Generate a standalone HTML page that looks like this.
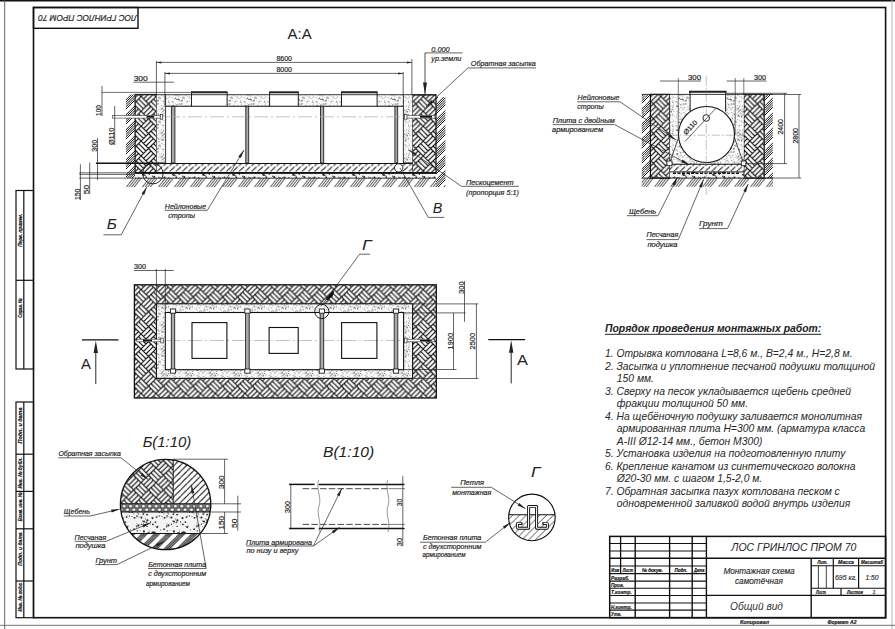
<!DOCTYPE html>
<html><head><meta charset="utf-8"><style>
html,body{margin:0;padding:0;background:#fff;width:895px;height:629px;overflow:hidden}
svg{display:block;font-family:"Liberation Sans",sans-serif}
</style></head><body>
<svg width="895" height="629" viewBox="0 0 895 629">
<defs>
<pattern id="hb" patternUnits="userSpaceOnUse" width="14.8492" height="14.8492" x="7.42" y="7.42"><rect width="14.8492" height="14.8492" fill="#fff"/><path d="M-2.47,2.47L4.95,9.90M-4.95,4.95L2.47,12.37M-7.42,-7.42L0.00,0.00M-7.42,7.42L0.00,14.85M0.00,0.00L-7.42,7.42M0.00,0.00L7.42,7.42M0.00,14.85L-7.42,22.27M0.00,14.85L7.42,22.27M12.37,-2.47L4.95,4.95M12.37,12.37L4.95,19.80M12.37,2.47L19.80,9.90M14.85,-0.00L22.27,7.42M14.85,-0.00L7.42,7.42M14.85,14.85L22.27,22.27M14.85,14.85L7.42,22.27M22.27,-7.42L14.85,-0.00M22.27,7.42L14.85,14.85M7.42,-7.42L0.00,0.00M7.42,-7.42L14.85,-0.00M7.42,7.42L0.00,14.85M7.42,7.42L14.85,14.85M9.90,-4.95L2.47,2.47M9.90,4.95L17.32,12.37M9.90,9.90L2.47,17.32" fill="none" stroke="#111" stroke-width="1.1"/></pattern>
<pattern id="gr" patternUnits="userSpaceOnUse" width="16" height="20.479"><rect width="16" height="20.479" fill="#fff"/><path d="M-15.40,20.48L0.60,0M0.60,20.48L16.60,0M16.60,20.48L32.60,0M-12.80,20.48L3.20,0M3.20,20.48L19.20,0M19.20,20.48L35.20,0M-10.20,20.48L5.80,0M5.80,20.48L21.80,0M21.80,20.48L37.80,0M-7.60,20.48L8.40,0M8.40,20.48L24.40,0M24.40,20.48L40.40,0" stroke="#111" stroke-width="0.85" fill="none"/></pattern>
<pattern id="grv" patternUnits="userSpaceOnUse" width="15.000" height="15"><rect width="15.000" height="15" fill="#fff"/><path d="M0,0.80L15.00,-14.20M0,15.80L15.00,0.80M0,30.80L15.00,15.80M0,3.10L15.00,-11.90M0,18.10L15.00,3.10M0,33.10L15.00,18.10M0,5.40L15.00,-9.60M0,20.40L15.00,5.40M0,35.40L15.00,20.40M0,7.70L15.00,-7.30M0,22.70L15.00,7.70M0,37.70L15.00,22.70M0,10.00L15.00,-5.00M0,25.00L15.00,10.00M0,40.00L15.00,25.00" stroke="#111" stroke-width="1.0" fill="none"/></pattern>
<pattern id="cc" patternUnits="userSpaceOnUse" width="6.3" height="5.673"><rect width="6.3" height="5.673" fill="#fff"/><path d="M-5.30,5.673L1.00,0M1.00,5.673L7.30,0M7.30,5.673L13.60,0" stroke="#1a1a1a" stroke-width="1.0" stroke-dasharray="5 1.6" fill="none"/></pattern>
<pattern id="sd" patternUnits="userSpaceOnUse" width="24" height="24"><rect width="24" height="24" fill="#fafafa"/><line x1="10.7" y1="12.5" x2="11.0" y2="14.3" stroke="#888" stroke-width="0.5"/><circle cx="4.6" cy="19.3" r="0.3" fill="#666"/><circle cx="10.7" cy="3.4" r="0.6" fill="#444"/><line x1="23.5" y1="14.9" x2="22.8" y2="16.5" stroke="#666" stroke-width="0.5"/><line x1="2.0" y1="0.5" x2="1.1" y2="1.2" stroke="#444" stroke-width="0.5"/><circle cx="14.2" cy="4.7" r="0.6" fill="#777"/><line x1="1.1" y1="2.0" x2="-0.9" y2="2.0" stroke="#888" stroke-width="0.5"/><circle cx="20.2" cy="17.0" r="0.5" fill="#666"/><circle cx="0.7" cy="13.5" r="0.5" fill="#444"/><line x1="8.5" y1="22.4" x2="10.0" y2="23.6" stroke="#444" stroke-width="0.5"/><line x1="0.5" y1="8.8" x2="2.0" y2="9.2" stroke="#888" stroke-width="0.5"/><circle cx="18.7" cy="6.5" r="0.3" fill="#777"/><circle cx="23.1" cy="18.2" r="0.3" fill="#666"/><circle cx="0.3" cy="11.2" r="0.6" fill="#666"/><line x1="12.4" y1="23.2" x2="12.0" y2="24.1" stroke="#888" stroke-width="0.5"/><circle cx="10.1" cy="5.1" r="0.3" fill="#777"/><line x1="4.6" y1="9.4" x2="5.5" y2="9.5" stroke="#444" stroke-width="0.5"/><line x1="10.4" y1="-0.2" x2="10.8" y2="0.6" stroke="#777" stroke-width="0.5"/><circle cx="5.0" cy="15.3" r="0.5" fill="#777"/><line x1="15.4" y1="2.8" x2="14.5" y2="3.3" stroke="#666" stroke-width="0.5"/><line x1="4.0" y1="21.4" x2="3.4" y2="22.2" stroke="#666" stroke-width="0.5"/><line x1="15.8" y1="13.0" x2="14.4" y2="13.6" stroke="#888" stroke-width="0.5"/><circle cx="10.1" cy="2.5" r="0.4" fill="#777"/><circle cx="17.8" cy="9.4" r="0.5" fill="#888"/><line x1="11.9" y1="21.8" x2="13.0" y2="22.8" stroke="#666" stroke-width="0.5"/><circle cx="20.5" cy="14.7" r="0.3" fill="#666"/><circle cx="1.7" cy="9.9" r="0.4" fill="#444"/><line x1="6.4" y1="11.9" x2="7.2" y2="13.6" stroke="#444" stroke-width="0.5"/><line x1="23.8" y1="14.8" x2="23.3" y2="16.7" stroke="#666" stroke-width="0.5"/><circle cx="11.4" cy="8.6" r="0.3" fill="#444"/><circle cx="14.4" cy="1.8" r="0.5" fill="#777"/><circle cx="3.3" cy="1.7" r="0.3" fill="#777"/><line x1="21.2" y1="17.0" x2="22.0" y2="18.4" stroke="#777" stroke-width="0.5"/><circle cx="21.6" cy="20.9" r="0.6" fill="#444"/><circle cx="13.7" cy="15.0" r="0.3" fill="#444"/><line x1="2.3" y1="14.9" x2="1.5" y2="15.8" stroke="#888" stroke-width="0.5"/><circle cx="17.6" cy="13.9" r="0.3" fill="#444"/><circle cx="7.4" cy="2.1" r="0.6" fill="#444"/><circle cx="18.7" cy="15.8" r="0.5" fill="#444"/><circle cx="7.2" cy="16.3" r="0.5" fill="#666"/><line x1="15.7" y1="10.1" x2="16.0" y2="11.1" stroke="#777" stroke-width="0.5"/><line x1="15.8" y1="19.1" x2="14.6" y2="19.5" stroke="#666" stroke-width="0.5"/><circle cx="14.0" cy="7.6" r="0.5" fill="#888"/><line x1="20.5" y1="20.1" x2="19.7" y2="20.6" stroke="#777" stroke-width="0.5"/><line x1="11.6" y1="21.6" x2="11.0" y2="22.9" stroke="#888" stroke-width="0.5"/><line x1="7.1" y1="19.4" x2="8.0" y2="20.9" stroke="#888" stroke-width="0.5"/><line x1="6.8" y1="14.0" x2="6.5" y2="15.2" stroke="#777" stroke-width="0.5"/><circle cx="19.0" cy="0.5" r="0.4" fill="#888"/><circle cx="0.6" cy="19.9" r="0.3" fill="#666"/><circle cx="23.6" cy="2.8" r="0.3" fill="#777"/><circle cx="16.4" cy="4.8" r="0.3" fill="#666"/><circle cx="18.1" cy="12.8" r="0.5" fill="#666"/><line x1="18.4" y1="12.1" x2="19.0" y2="13.8" stroke="#666" stroke-width="0.5"/><line x1="21.1" y1="1.8" x2="22.4" y2="2.4" stroke="#888" stroke-width="0.5"/><circle cx="15.0" cy="21.8" r="0.6" fill="#777"/><circle cx="7.8" cy="23.6" r="0.4" fill="#444"/><circle cx="5.8" cy="9.4" r="0.5" fill="#777"/><circle cx="6.3" cy="17.2" r="0.3" fill="#444"/><line x1="11.1" y1="13.1" x2="10.1" y2="13.3" stroke="#888" stroke-width="0.5"/><circle cx="20.8" cy="10.3" r="0.4" fill="#777"/><line x1="12.0" y1="23.9" x2="10.6" y2="24.1" stroke="#888" stroke-width="0.5"/><circle cx="22.8" cy="2.1" r="0.4" fill="#777"/><line x1="13.0" y1="19.4" x2="12.0" y2="21.1" stroke="#777" stroke-width="0.5"/><circle cx="20.9" cy="14.6" r="0.5" fill="#666"/><circle cx="13.8" cy="4.8" r="0.6" fill="#444"/><circle cx="0.7" cy="23.3" r="0.3" fill="#888"/><circle cx="11.8" cy="16.6" r="0.6" fill="#888"/><circle cx="22.1" cy="19.2" r="0.6" fill="#666"/><line x1="11.9" y1="7.7" x2="11.8" y2="8.6" stroke="#888" stroke-width="0.5"/><circle cx="10.1" cy="0.7" r="0.3" fill="#444"/><line x1="5.0" y1="5.0" x2="4.3" y2="5.9" stroke="#777" stroke-width="0.5"/><line x1="12.5" y1="11.4" x2="11.5" y2="12.6" stroke="#777" stroke-width="0.5"/><line x1="21.2" y1="-0.4" x2="21.0" y2="1.5" stroke="#666" stroke-width="0.5"/><circle cx="12.8" cy="5.2" r="0.4" fill="#666"/><circle cx="22.0" cy="15.1" r="0.5" fill="#666"/><circle cx="14.5" cy="21.4" r="0.3" fill="#666"/><line x1="3.0" y1="5.1" x2="3.4" y2="6.4" stroke="#777" stroke-width="0.5"/><line x1="22.3" y1="12.3" x2="22.8" y2="13.8" stroke="#666" stroke-width="0.5"/><line x1="-0.2" y1="4.6" x2="1.1" y2="5.1" stroke="#777" stroke-width="0.5"/><line x1="18.8" y1="11.7" x2="17.6" y2="12.5" stroke="#666" stroke-width="0.5"/><line x1="0.1" y1="18.1" x2="1.0" y2="18.5" stroke="#888" stroke-width="0.5"/><line x1="5.0" y1="19.7" x2="4.8" y2="20.6" stroke="#444" stroke-width="0.5"/><circle cx="16.3" cy="1.9" r="0.6" fill="#888"/><circle cx="10.2" cy="8.5" r="0.3" fill="#777"/><circle cx="15.2" cy="1.0" r="0.6" fill="#888"/><line x1="7.8" y1="8.6" x2="9.5" y2="9.1" stroke="#666" stroke-width="0.5"/><line x1="7.9" y1="1.5" x2="7.7" y2="2.5" stroke="#888" stroke-width="0.5"/><line x1="14.8" y1="7.9" x2="13.2" y2="8.4" stroke="#777" stroke-width="0.5"/><circle cx="18.7" cy="19.6" r="0.5" fill="#777"/><circle cx="18.4" cy="18.4" r="0.3" fill="#666"/><circle cx="19.1" cy="7.2" r="0.3" fill="#777"/><line x1="5.1" y1="22.3" x2="6.1" y2="23.1" stroke="#777" stroke-width="0.5"/><circle cx="4.4" cy="1.8" r="0.4" fill="#888"/><line x1="16.4" y1="18.1" x2="17.3" y2="18.4" stroke="#444" stroke-width="0.5"/><circle cx="5.7" cy="10.6" r="0.6" fill="#666"/><circle cx="0.3" cy="6.2" r="0.6" fill="#777"/><line x1="23.6" y1="13.4" x2="22.8" y2="13.9" stroke="#888" stroke-width="0.5"/><circle cx="14.3" cy="18.2" r="0.6" fill="#666"/><circle cx="11.3" cy="4.1" r="0.6" fill="#444"/><circle cx="22.7" cy="10.1" r="0.5" fill="#777"/><circle cx="12.7" cy="11.6" r="0.5" fill="#777"/><line x1="0.4" y1="17.8" x2="0.9" y2="19.3" stroke="#666" stroke-width="0.5"/><circle cx="1.3" cy="7.6" r="0.3" fill="#777"/><line x1="19.7" y1="5.3" x2="18.6" y2="5.4" stroke="#777" stroke-width="0.5"/><line x1="11.7" y1="22.1" x2="13.4" y2="22.9" stroke="#888" stroke-width="0.5"/><circle cx="5.9" cy="17.0" r="0.6" fill="#888"/><circle cx="2.8" cy="20.7" r="0.3" fill="#666"/><circle cx="8.7" cy="3.4" r="0.6" fill="#777"/><line x1="9.6" y1="17.7" x2="7.9" y2="18.0" stroke="#666" stroke-width="0.5"/><line x1="5.2" y1="2.2" x2="6.2" y2="3.3" stroke="#777" stroke-width="0.5"/><circle cx="17.4" cy="16.8" r="0.4" fill="#777"/><line x1="4.9" y1="5.8" x2="4.2" y2="6.1" stroke="#666" stroke-width="0.5"/><circle cx="1.5" cy="6.5" r="0.3" fill="#444"/><line x1="5.5" y1="5.9" x2="5.2" y2="7.4" stroke="#666" stroke-width="0.5"/><circle cx="9.0" cy="11.5" r="0.6" fill="#777"/><circle cx="17.9" cy="20.1" r="0.6" fill="#444"/><line x1="19.3" y1="14.1" x2="19.6" y2="15.8" stroke="#666" stroke-width="0.5"/><circle cx="9.4" cy="3.6" r="0.5" fill="#777"/><line x1="13.5" y1="17.2" x2="12.8" y2="18.6" stroke="#888" stroke-width="0.5"/><circle cx="11.1" cy="7.8" r="0.6" fill="#888"/><line x1="19.1" y1="11.0" x2="20.1" y2="11.2" stroke="#444" stroke-width="0.5"/><circle cx="15.9" cy="2.0" r="0.5" fill="#777"/><line x1="21.0" y1="4.8" x2="21.4" y2="5.7" stroke="#777" stroke-width="0.5"/><line x1="16.9" y1="12.8" x2="17.2" y2="14.5" stroke="#777" stroke-width="0.5"/><circle cx="7.3" cy="7.6" r="0.3" fill="#666"/><circle cx="8.7" cy="8.8" r="0.6" fill="#888"/><circle cx="19.1" cy="17.7" r="0.4" fill="#888"/><circle cx="20.1" cy="13.5" r="0.5" fill="#888"/><circle cx="19.5" cy="5.3" r="0.5" fill="#666"/><line x1="23.3" y1="15.1" x2="23.0" y2="16.2" stroke="#444" stroke-width="0.5"/><circle cx="13.1" cy="8.0" r="0.5" fill="#444"/><circle cx="2.0" cy="15.2" r="0.4" fill="#888"/><line x1="17.6" y1="11.3" x2="16.6" y2="12.2" stroke="#777" stroke-width="0.5"/><line x1="8.1" y1="22.4" x2="8.1" y2="24.1" stroke="#888" stroke-width="0.5"/><circle cx="1.7" cy="14.8" r="0.3" fill="#777"/><line x1="19.4" y1="19.2" x2="19.3" y2="20.8" stroke="#444" stroke-width="0.5"/><circle cx="19.3" cy="10.1" r="0.4" fill="#666"/><circle cx="17.8" cy="23.8" r="0.5" fill="#666"/><circle cx="4.9" cy="10.2" r="0.6" fill="#444"/><line x1="8.2" y1="2.5" x2="6.6" y2="3.0" stroke="#666" stroke-width="0.5"/></pattern>
<pattern id="sd2" patternUnits="userSpaceOnUse" width="30" height="30"><rect width="30" height="30" fill="#f4f4f4"/><circle cx="0.5" cy="14.4" r="0.4" fill="#333"/><circle cx="9.4" cy="5.9" r="0.7" fill="#333"/><circle cx="6.5" cy="7.1" r="0.9" fill="#333"/><circle cx="17.8" cy="6.7" r="0.5" fill="#333"/><circle cx="26.8" cy="12.1" r="0.7" fill="#333"/><circle cx="18.8" cy="28.3" r="1.1" fill="#333"/><circle cx="14.4" cy="7.8" r="0.9" fill="#333"/><circle cx="27.4" cy="10.3" r="1.1" fill="#333"/><circle cx="23.2" cy="2.8" r="0.5" fill="#333"/><circle cx="12.0" cy="6.5" r="0.5" fill="#333"/><circle cx="24.0" cy="11.5" r="1.1" fill="#333"/><circle cx="23.8" cy="23.2" r="0.4" fill="#333"/><circle cx="19.7" cy="7.1" r="0.4" fill="#333"/><circle cx="26.2" cy="27.2" r="0.9" fill="#333"/><circle cx="23.9" cy="21.4" r="1.1" fill="#333"/><circle cx="26.2" cy="12.5" r="0.7" fill="#333"/><circle cx="4.3" cy="27.2" r="1.1" fill="#333"/><circle cx="3.9" cy="22.3" r="1.1" fill="#333"/><circle cx="8.0" cy="16.0" r="0.5" fill="#333"/><circle cx="17.2" cy="5.3" r="0.5" fill="#333"/><circle cx="24.6" cy="25.4" r="0.5" fill="#333"/><circle cx="2.5" cy="8.1" r="1.1" fill="#333"/><circle cx="2.9" cy="14.4" r="0.9" fill="#333"/><circle cx="2.5" cy="22.5" r="1.1" fill="#333"/><circle cx="25.7" cy="9.1" r="0.5" fill="#333"/><circle cx="12.5" cy="27.5" r="0.4" fill="#333"/><circle cx="23.4" cy="13.2" r="0.4" fill="#333"/><circle cx="16.3" cy="15.8" r="0.5" fill="#333"/><circle cx="28.4" cy="28.9" r="0.7" fill="#333"/><circle cx="9.3" cy="2.3" r="0.7" fill="#333"/><circle cx="29.9" cy="20.0" r="0.4" fill="#333"/><circle cx="10.8" cy="20.6" r="0.4" fill="#333"/><circle cx="20.0" cy="20.3" r="0.4" fill="#333"/><circle cx="19.6" cy="0.4" r="0.9" fill="#333"/><circle cx="21.4" cy="14.3" r="0.7" fill="#333"/><circle cx="16.9" cy="13.7" r="0.4" fill="#333"/><circle cx="25.7" cy="25.3" r="0.5" fill="#333"/><circle cx="27.0" cy="4.6" r="0.9" fill="#333"/><circle cx="28.1" cy="22.5" r="0.7" fill="#333"/><circle cx="22.6" cy="16.7" r="0.4" fill="#333"/><circle cx="7.7" cy="6.0" r="0.4" fill="#333"/><circle cx="9.9" cy="28.4" r="1.1" fill="#333"/><circle cx="14.1" cy="19.2" r="0.9" fill="#333"/><circle cx="24.8" cy="2.8" r="0.5" fill="#333"/><circle cx="18.7" cy="3.9" r="0.5" fill="#333"/><circle cx="5.4" cy="12.1" r="0.9" fill="#333"/><circle cx="17.8" cy="2.7" r="0.5" fill="#333"/><circle cx="1.0" cy="29.6" r="0.9" fill="#333"/><circle cx="12.2" cy="2.2" r="0.9" fill="#333"/><circle cx="27.8" cy="4.2" r="0.5" fill="#333"/><circle cx="23.0" cy="24.6" r="0.9" fill="#333"/><circle cx="14.5" cy="27.6" r="1.1" fill="#333"/><circle cx="0.5" cy="12.0" r="0.7" fill="#333"/><circle cx="29.5" cy="23.7" r="1.1" fill="#333"/><circle cx="15.9" cy="7.8" r="0.5" fill="#333"/><circle cx="10.3" cy="19.5" r="0.4" fill="#333"/><circle cx="16.7" cy="6.1" r="0.7" fill="#333"/><circle cx="23.7" cy="24.8" r="1.1" fill="#333"/><circle cx="21.4" cy="7.6" r="1.1" fill="#333"/><circle cx="27.1" cy="16.4" r="0.7" fill="#333"/><circle cx="18.4" cy="15.4" r="1.1" fill="#333"/><circle cx="21.4" cy="29.6" r="1.1" fill="#333"/><circle cx="30.0" cy="21.2" r="0.5" fill="#333"/><circle cx="17.0" cy="0.8" r="0.5" fill="#333"/><circle cx="23.3" cy="4.1" r="0.9" fill="#333"/><circle cx="17.3" cy="20.9" r="0.7" fill="#333"/><circle cx="2.8" cy="26.2" r="0.7" fill="#333"/><circle cx="13.9" cy="3.7" r="0.5" fill="#333"/><circle cx="7.2" cy="17.1" r="1.1" fill="#333"/><circle cx="16.8" cy="16.8" r="0.7" fill="#333"/><circle cx="5.1" cy="22.4" r="0.7" fill="#333"/><circle cx="18.0" cy="3.7" r="0.4" fill="#333"/><circle cx="8.7" cy="26.9" r="0.5" fill="#333"/><circle cx="22.7" cy="10.9" r="0.5" fill="#333"/><circle cx="5.6" cy="16.4" r="0.4" fill="#333"/></pattern>
<pattern id="gv" patternUnits="userSpaceOnUse" width="6" height="8"><rect width="6" height="8" fill="#fff"/><ellipse cx="3" cy="4" rx="2.2" ry="1.8" fill="none" stroke="#222" stroke-width="0.9"/></pattern>
<pattern id="hbL" patternUnits="userSpaceOnUse" width="29.6985" height="14.8492" patternTransform="scale(1.0)"><rect width="100" height="100" fill="#fff"/><rect width="100" height="100" fill="url(#hb)"/></pattern>
<pattern id="ccG" patternUnits="userSpaceOnUse" width="6.8" height="6.800" x="0" y="0"><rect width="6.8" height="6.800" fill="#fff"/><path d="M-12.60,6.800L-5.80,0M-5.80,6.800L1.00,0M1.00,6.800L7.80,0M7.80,6.800L14.60,0M14.60,6.800L21.40,0" stroke="#222" stroke-width="0.8" fill="none"/></pattern>
<pattern id="ccL" patternUnits="userSpaceOnUse" width="6.2" height="6.200" x="0" y="0"><rect width="6.2" height="6.200" fill="#fff"/><path d="M-11.40,6.200L-5.20,0M-5.20,6.200L1.00,0M1.00,6.200L7.20,0M7.20,6.200L13.40,0M13.40,6.200L19.60,0" stroke="#111" stroke-width="0.95" fill="none"/></pattern>
<pattern id="grL" patternUnits="userSpaceOnUse" width="12.5" height="12.500" x="0" y="0"><rect width="12.5" height="12.500" fill="#fff"/><path d="M-24.00,12.500L-11.50,0M-11.50,12.500L1.00,0M1.00,12.500L13.50,0M13.50,12.500L26.00,0M26.00,12.500L38.50,0M-21.60,12.500L-9.10,0M-9.10,12.500L3.40,0M3.40,12.500L15.90,0M15.90,12.500L28.40,0M28.40,12.500L40.90,0M-19.20,12.500L-6.70,0M-6.70,12.500L5.80,0M5.80,12.500L18.30,0M18.30,12.500L30.80,0M30.80,12.500L43.30,0" stroke="#111" stroke-width="1.05" fill="none"/></pattern>
<pattern id="gvL" patternUnits="userSpaceOnUse" width="6.4" height="8.2" x="1" y="503.8"><rect width="6.4" height="8.2" fill="#808080"/><ellipse cx="1.6" cy="2.3" rx="2.2" ry="1.75" fill="#fff" stroke="#111" stroke-width="0.75"/><ellipse cx="4.8" cy="6.0" rx="2.2" ry="1.75" fill="#fff" stroke="#111" stroke-width="0.75"/><ellipse cx="-1.6" cy="6.0" rx="2.2" ry="1.75" fill="#fff" stroke="#111" stroke-width="0.75"/><ellipse cx="8.0" cy="2.3" rx="2.2" ry="1.75" fill="#fff" stroke="#111" stroke-width="0.75"/></pattern>
</defs>
<rect x="0.0" y="0.0" width="895.0" height="629.0" fill="#fff" />
<line x1="0.0" y1="0.6" x2="895.0" y2="0.6" stroke="#111" stroke-width="1.6" />
<line x1="4.7" y1="0.0" x2="4.7" y2="629.0" stroke="#555" stroke-width="0.9" />
<line x1="892.0" y1="0.0" x2="892.0" y2="629.0" stroke="#aaa" stroke-width="0.9" />
<line x1="0.0" y1="625.3" x2="895.0" y2="625.3" stroke="#666" stroke-width="0.9" />
<rect x="33.5" y="7.5" width="852.1" height="610.2" fill="none" stroke="#111" stroke-width="1.6" />
<rect x="33.5" y="7.5" width="104.5" height="20.8" fill="none" stroke="#111" stroke-width="1.4" />
<text x="87.5" y="14.5" font-size="8.6" text-anchor="middle" font-style="italic" font-weight="normal" fill="#222" stroke="#222" stroke-width="0.18" textLength="98.5" lengthAdjust="spacingAndGlyphs" transform="rotate(180 87.5 14.5)" >ЛОС ГРИНЛОС ПРОМ 70</text>
<rect x="16.0" y="190.5" width="17.5" height="178.5" fill="none" stroke="#111" stroke-width="1.2" />
<line x1="23.8" y1="190.5" x2="23.8" y2="369.0" stroke="#111" stroke-width="1.2" />
<line x1="16.0" y1="280.3" x2="33.5" y2="280.3" stroke="#111" stroke-width="1.2" />
<rect x="16.0" y="402.0" width="17.5" height="215.7" fill="none" stroke="#111" stroke-width="1.2" />
<line x1="23.8" y1="402.0" x2="23.8" y2="617.7" stroke="#111" stroke-width="1.2" />
<line x1="16.0" y1="454.2" x2="33.5" y2="454.2" stroke="#111" stroke-width="1.2" />
<line x1="16.0" y1="491.4" x2="33.5" y2="491.4" stroke="#111" stroke-width="1.2" />
<line x1="16.0" y1="528.8" x2="33.5" y2="528.8" stroke="#111" stroke-width="1.2" />
<line x1="16.0" y1="581.0" x2="33.5" y2="581.0" stroke="#111" stroke-width="1.2" />
<text x="22.4" y="230.3" font-size="5.6" text-anchor="middle" font-style="italic" font-weight="bold" fill="#111" stroke="#111" stroke-width="0.2" textLength="33.0" lengthAdjust="spacingAndGlyphs" transform="rotate(-90 22.4 230.3)" >Перв. примен.</text>
<text x="22.4" y="308.0" font-size="5.6" text-anchor="middle" font-style="italic" font-weight="bold" fill="#111" stroke="#111" stroke-width="0.2" textLength="19.6" lengthAdjust="spacingAndGlyphs" transform="rotate(-90 22.4 308.0)" >Справ. №</text>
<text x="22.4" y="425.5" font-size="5.6" text-anchor="middle" font-style="italic" font-weight="bold" fill="#111" stroke="#111" stroke-width="0.2" textLength="36.0" lengthAdjust="spacingAndGlyphs" transform="rotate(-90 22.4 425.5)" >Подп. и дата</text>
<text x="22.4" y="473.0" font-size="5.6" text-anchor="middle" font-style="italic" font-weight="bold" fill="#111" stroke="#111" stroke-width="0.2" textLength="31.0" lengthAdjust="spacingAndGlyphs" transform="rotate(-90 22.4 473.0)" >Инв. № дубл.</text>
<text x="22.4" y="506.7" font-size="5.6" text-anchor="middle" font-style="italic" font-weight="bold" fill="#111" stroke="#111" stroke-width="0.2" textLength="29.0" lengthAdjust="spacingAndGlyphs" transform="rotate(-90 22.4 506.7)" >Взам. инв. №</text>
<text x="22.4" y="549.0" font-size="5.6" text-anchor="middle" font-style="italic" font-weight="bold" fill="#111" stroke="#111" stroke-width="0.2" textLength="33.4" lengthAdjust="spacingAndGlyphs" transform="rotate(-90 22.4 549.0)" >Подп. и дата</text>
<text x="22.4" y="596.9" font-size="5.6" text-anchor="middle" font-style="italic" font-weight="bold" fill="#111" stroke="#111" stroke-width="0.2" textLength="29.0" lengthAdjust="spacingAndGlyphs" transform="rotate(-90 22.4 596.9)" >Инв. № подл.</text>
<rect x="609.7" y="536.4" width="275.9" height="81.3" fill="none" stroke="#111" stroke-width="1.5" />
<line x1="620.6" y1="536.4" x2="620.6" y2="573.6" stroke="#111" stroke-width="1.3" />
<line x1="635.2" y1="536.4" x2="635.2" y2="617.7" stroke="#111" stroke-width="1.4" />
<line x1="669.6" y1="536.4" x2="669.6" y2="617.7" stroke="#111" stroke-width="1.4" />
<line x1="692.2" y1="536.4" x2="692.2" y2="617.7" stroke="#111" stroke-width="1.4" />
<line x1="706.4" y1="536.4" x2="706.4" y2="617.7" stroke="#111" stroke-width="1.4" />
<line x1="609.7" y1="543.4" x2="706.4" y2="543.4" stroke="#111" stroke-width="1.05" />
<line x1="609.7" y1="551.0" x2="706.4" y2="551.0" stroke="#111" stroke-width="1.05" />
<line x1="609.7" y1="558.2" x2="706.4" y2="558.2" stroke="#111" stroke-width="1.4" />
<line x1="609.7" y1="566.0" x2="706.4" y2="566.0" stroke="#111" stroke-width="1.05" />
<line x1="609.7" y1="573.6" x2="706.4" y2="573.6" stroke="#111" stroke-width="1.4" />
<line x1="609.7" y1="581.1" x2="706.4" y2="581.1" stroke="#111" stroke-width="1.05" />
<line x1="609.7" y1="588.3" x2="706.4" y2="588.3" stroke="#111" stroke-width="1.05" />
<line x1="609.7" y1="595.4" x2="706.4" y2="595.4" stroke="#111" stroke-width="1.05" />
<line x1="609.7" y1="603.0" x2="706.4" y2="603.0" stroke="#111" stroke-width="1.05" />
<line x1="609.7" y1="610.1" x2="706.4" y2="610.1" stroke="#111" stroke-width="1.05" />
<line x1="706.4" y1="558.2" x2="885.6" y2="558.2" stroke="#111" stroke-width="1.4" />
<line x1="706.4" y1="595.4" x2="885.6" y2="595.4" stroke="#111" stroke-width="1.4" />
<line x1="811.2" y1="558.2" x2="811.2" y2="617.7" stroke="#111" stroke-width="1.4" />
<line x1="811.2" y1="565.7" x2="885.6" y2="565.7" stroke="#111" stroke-width="1.1" />
<line x1="811.2" y1="588.3" x2="885.6" y2="588.3" stroke="#111" stroke-width="1.1" />
<line x1="833.3" y1="558.2" x2="833.3" y2="588.3" stroke="#111" stroke-width="1.2" />
<line x1="858.6" y1="558.2" x2="858.6" y2="588.3" stroke="#111" stroke-width="1.2" />
<line x1="818.4" y1="565.7" x2="818.4" y2="588.3" stroke="#111" stroke-width="0.8" />
<line x1="826.3" y1="565.7" x2="826.3" y2="588.3" stroke="#111" stroke-width="0.8" />
<line x1="841.0" y1="588.3" x2="841.0" y2="595.4" stroke="#111" stroke-width="1.2" />
<text x="615.2" y="571.9" font-size="5.4" text-anchor="middle" font-style="italic" font-weight="bold" fill="#111" stroke="#111" stroke-width="0.2" textLength="7.8" lengthAdjust="spacingAndGlyphs" >Изм</text>
<text x="627.9" y="571.9" font-size="5.4" text-anchor="middle" font-style="italic" font-weight="bold" fill="#111" stroke="#111" stroke-width="0.2" textLength="10.4" lengthAdjust="spacingAndGlyphs" >Лист</text>
<text x="652.4" y="571.9" font-size="5.4" text-anchor="middle" font-style="italic" font-weight="bold" fill="#111" stroke="#111" stroke-width="0.2" textLength="20.8" lengthAdjust="spacingAndGlyphs" >№ докум.</text>
<text x="680.9" y="571.9" font-size="5.4" text-anchor="middle" font-style="italic" font-weight="bold" fill="#111" stroke="#111" stroke-width="0.2" textLength="13.0" lengthAdjust="spacingAndGlyphs" >Подп.</text>
<text x="699.3" y="571.9" font-size="5.4" text-anchor="middle" font-style="italic" font-weight="bold" fill="#111" stroke="#111" stroke-width="0.2" textLength="10.4" lengthAdjust="spacingAndGlyphs" >Дата</text>
<text x="611.0" y="579.5" font-size="5.2" text-anchor="start" font-style="italic" font-weight="bold" fill="#222" stroke="#222" stroke-width="0.2" textLength="18.2" lengthAdjust="spacingAndGlyphs" >Разраб.</text>
<text x="611.0" y="587.0" font-size="5.2" text-anchor="start" font-style="italic" font-weight="bold" fill="#222" stroke="#222" stroke-width="0.2" textLength="13.0" lengthAdjust="spacingAndGlyphs" >Пров.</text>
<text x="611.0" y="594.2" font-size="5.2" text-anchor="start" font-style="italic" font-weight="bold" fill="#222" stroke="#222" stroke-width="0.2" textLength="20.8" lengthAdjust="spacingAndGlyphs" >Т.контр.</text>
<text x="611.0" y="608.5" font-size="5.2" text-anchor="start" font-style="italic" font-weight="bold" fill="#222" stroke="#222" stroke-width="0.2" textLength="20.8" lengthAdjust="spacingAndGlyphs" >Н.контр.</text>
<text x="611.0" y="615.8" font-size="5.2" text-anchor="start" font-style="italic" font-weight="bold" fill="#222" stroke="#222" stroke-width="0.2" textLength="10.4" lengthAdjust="spacingAndGlyphs" >Утв.</text>
<text x="731.3" y="551.3" font-size="10.4" text-anchor="start" font-style="italic" font-weight="normal" fill="#222" textLength="125.0" lengthAdjust="spacingAndGlyphs" >ЛОС ГРИНЛОС ПРОМ 70</text>
<text x="759.0" y="573.9" font-size="8.2" text-anchor="middle" font-style="italic" font-weight="normal" fill="#333" stroke="#333" stroke-width="0.18" textLength="71.2" lengthAdjust="spacingAndGlyphs" >Монтажная схема</text>
<text x="759.0" y="583.5" font-size="8.2" text-anchor="middle" font-style="italic" font-weight="normal" fill="#333" stroke="#333" stroke-width="0.18" textLength="48.0" lengthAdjust="spacingAndGlyphs" >самотёчная</text>
<text x="756.5" y="610.0" font-size="10.2" text-anchor="middle" font-style="italic" font-weight="normal" fill="#333" textLength="53.0" lengthAdjust="spacingAndGlyphs" >Общий вид</text>
<text x="822.5" y="563.8" font-size="5" text-anchor="middle" font-style="italic" font-weight="bold" fill="#222" stroke="#222" stroke-width="0.2" textLength="10.0" lengthAdjust="spacingAndGlyphs" >Лит.</text>
<text x="846.0" y="563.8" font-size="5" text-anchor="middle" font-style="italic" font-weight="bold" fill="#222" stroke="#222" stroke-width="0.2" textLength="16.0" lengthAdjust="spacingAndGlyphs" >Масса</text>
<text x="872.0" y="563.8" font-size="5" text-anchor="middle" font-style="italic" font-weight="bold" fill="#222" stroke="#222" stroke-width="0.2" textLength="22.0" lengthAdjust="spacingAndGlyphs" >Масштаб</text>
<text x="846.0" y="580.0" font-size="7.2" text-anchor="middle" font-style="italic" font-weight="normal" fill="#333" stroke="#333" stroke-width="0.18" textLength="22.0" lengthAdjust="spacingAndGlyphs" >695 кг.</text>
<text x="872.0" y="580.0" font-size="7.2" text-anchor="middle" font-style="italic" font-weight="normal" fill="#333" stroke="#333" stroke-width="0.18" textLength="13.0" lengthAdjust="spacingAndGlyphs" >1:50</text>
<text x="821.0" y="593.8" font-size="5" text-anchor="middle" font-style="italic" font-weight="bold" fill="#222" stroke="#222" stroke-width="0.2" textLength="10.0" lengthAdjust="spacingAndGlyphs" >Лист</text>
<text x="855.0" y="593.8" font-size="5" text-anchor="middle" font-style="italic" font-weight="bold" fill="#222" stroke="#222" stroke-width="0.2" textLength="16.0" lengthAdjust="spacingAndGlyphs" >Листов</text>
<text x="874.0" y="593.8" font-size="5.5" text-anchor="middle" font-style="italic" font-weight="normal" fill="#333" stroke="#333" stroke-width="0.18" >1</text>
<text x="754.6" y="623.5" font-size="5.5" text-anchor="middle" font-style="italic" font-weight="bold" fill="#222" stroke="#222" stroke-width="0.2" textLength="29.0" lengthAdjust="spacingAndGlyphs" >Копировал</text>
<text x="842.0" y="623.5" font-size="5.5" text-anchor="middle" font-style="italic" font-weight="bold" fill="#222" stroke="#222" stroke-width="0.2" textLength="29.0" lengthAdjust="spacingAndGlyphs" >Формат  A2</text>
<text x="605.0" y="331.8" font-size="10.4" text-anchor="start" font-style="italic" font-weight="bold" fill="#222" textLength="216.2" lengthAdjust="spacingAndGlyphs" >Порядок проведения монтажных работ:</text>
<line x1="605.0" y1="334.3" x2="821.3" y2="334.3" stroke="#222" stroke-width="1" />
<text x="605.0" y="357.2" font-size="10.35" text-anchor="start" font-style="italic" font-weight="normal" fill="#262626" >1. Отрывка котлована L=8,6 м., B=2,4 м., H=2,8 м.</text>
<text x="605.0" y="369.7" font-size="10.35" text-anchor="start" font-style="italic" font-weight="normal" fill="#262626" >2. Засыпка и уплотнение песчаной подушки толщиной</text>
<text x="616.8" y="382.2" font-size="10.35" text-anchor="start" font-style="italic" font-weight="normal" fill="#262626" >150 мм.</text>
<text x="605.0" y="394.8" font-size="10.35" text-anchor="start" font-style="italic" font-weight="normal" fill="#262626" >3. Сверху на песок укладывается щебень средней</text>
<text x="616.8" y="407.3" font-size="10.35" text-anchor="start" font-style="italic" font-weight="normal" fill="#262626" >фракции толщиной 50 мм.</text>
<text x="605.0" y="419.8" font-size="10.35" text-anchor="start" font-style="italic" font-weight="normal" fill="#262626" >4. На щебёночную подушку заливается монолитная</text>
<text x="616.8" y="432.3" font-size="10.35" text-anchor="start" font-style="italic" font-weight="normal" fill="#262626" >армированная плита H=300 мм. (арматура класса</text>
<text x="616.8" y="444.8" font-size="10.35" text-anchor="start" font-style="italic" font-weight="normal" fill="#262626" >A-III Ø12-14 мм., бетон M300)</text>
<text x="605.0" y="457.4" font-size="10.35" text-anchor="start" font-style="italic" font-weight="normal" fill="#262626" >5. Установка изделия на подготовленную плиту</text>
<text x="605.0" y="469.9" font-size="10.35" text-anchor="start" font-style="italic" font-weight="normal" fill="#262626" >6. Крепление канатом из синтетического волокна</text>
<text x="616.8" y="482.4" font-size="10.35" text-anchor="start" font-style="italic" font-weight="normal" fill="#262626" >Ø20-30 мм. с шагом 1,5-2,0 м.</text>
<text x="605.0" y="494.9" font-size="10.35" text-anchor="start" font-style="italic" font-weight="normal" fill="#262626" >7. Обратная засыпка пазух котлована песком с</text>
<text x="616.8" y="507.4" font-size="10.35" text-anchor="start" font-style="italic" font-weight="normal" fill="#262626" >одновременной заливкой водой внутрь изделия</text>
<text x="299.6" y="38.5" font-size="15" text-anchor="middle" font-style="normal" font-weight="normal" fill="#222" textLength="24.1" lengthAdjust="spacingAndGlyphs" >A:A</text>
<rect x="125.9" y="94.5" width="9.2" height="92.5" fill="url(#grv)" stroke="none" stroke-width="0"/>
<rect x="125.9" y="178.2" width="319.5" height="8.8" fill="url(#gr)" stroke="none" stroke-width="0"/>
<rect x="436.0" y="97.0" width="9.4" height="90.0" fill="url(#grv)" stroke="none" stroke-width="0"/>
<rect x="135.1" y="172.6" width="300.9" height="5.6" fill="url(#sd2)" />
<line x1="135.1" y1="172.8" x2="436.0" y2="172.8" stroke="#111" stroke-width="1.6" />
<line x1="135.1" y1="178.2" x2="436.0" y2="178.2" stroke="#222" stroke-width="0.9" />
<rect x="135.1" y="94.5" width="21.5" height="78.1" fill="url(#hb)" stroke="none" stroke-width="0"/>
<rect x="412.4" y="94.9" width="23.6" height="77.7" fill="url(#hb)" stroke="none" stroke-width="0"/>
<rect x="135.1" y="94.5" width="21.5" height="78.1" fill="none" stroke="#111" stroke-width="1.2" />
<rect x="412.4" y="94.9" width="23.6" height="77.7" fill="none" stroke="#111" stroke-width="1.2" />
<rect x="156.6" y="94.5" width="8.8" height="68.5" fill="url(#sd)" stroke="none" stroke-width="0"/>
<rect x="403.4" y="94.9" width="9.0" height="68.1" fill="url(#sd)" stroke="none" stroke-width="0"/>
<rect x="165.4" y="94.9" width="238.0" height="11.4" fill="url(#sd)" stroke="none" stroke-width="0"/>
<rect x="156.6" y="163.0" width="255.8" height="9.6" fill="url(#cc)" stroke="none" stroke-width="0"/>
<line x1="95.9" y1="163.3" x2="412.4" y2="163.3" stroke="#111" stroke-width="1.4" />
<line x1="135.1" y1="172.8" x2="436.0" y2="172.8" stroke="#111" stroke-width="1.8" />
<rect x="191.5" y="92.5" width="35.6" height="13.8" fill="#fff" />
<line x1="191.5" y1="92.3" x2="191.5" y2="106.3" stroke="#222" stroke-width="1" />
<line x1="227.1" y1="92.3" x2="227.1" y2="106.3" stroke="#222" stroke-width="1" />
<line x1="191.0" y1="92.3" x2="227.6" y2="92.3" stroke="#222" stroke-width="2" />
<rect x="269.6" y="92.5" width="28.7" height="13.8" fill="#fff" />
<line x1="269.6" y1="92.3" x2="269.6" y2="106.3" stroke="#222" stroke-width="1" />
<line x1="298.3" y1="92.3" x2="298.3" y2="106.3" stroke="#222" stroke-width="1" />
<line x1="269.1" y1="92.3" x2="298.8" y2="92.3" stroke="#222" stroke-width="2" />
<rect x="341.5" y="92.5" width="35.6" height="13.8" fill="#fff" />
<line x1="341.5" y1="92.3" x2="341.5" y2="106.3" stroke="#222" stroke-width="1" />
<line x1="377.1" y1="92.3" x2="377.1" y2="106.3" stroke="#222" stroke-width="1" />
<line x1="341.0" y1="92.3" x2="377.6" y2="92.3" stroke="#222" stroke-width="2" />
<line x1="102.0" y1="92.4" x2="191.5" y2="92.4" stroke="#333" stroke-width="0.7" />
<line x1="135.1" y1="94.7" x2="436.0" y2="94.7" stroke="#222" stroke-width="0.9" />
<rect x="165.7" y="106.3" width="237.7" height="56.7" fill="#fff" />
<line x1="165.4" y1="106.3" x2="403.4" y2="106.3" stroke="#111" stroke-width="1.1" />
<line x1="165.6" y1="94.5" x2="165.6" y2="163.0" stroke="#222" stroke-width="0.9" />
<line x1="403.4" y1="94.9" x2="403.4" y2="163.0" stroke="#222" stroke-width="0.9" />
<rect x="171.4" y="106.3" width="3.5" height="56.7" fill="#aaa" stroke="#222" stroke-width="0.9" />
<rect x="245.8" y="106.3" width="2.9" height="56.7" fill="#aaa" stroke="#222" stroke-width="0.9" />
<rect x="320.5" y="106.3" width="3.2" height="56.7" fill="#aaa" stroke="#222" stroke-width="0.9" />
<rect x="394.9" y="106.3" width="2.8" height="56.7" fill="#aaa" stroke="#222" stroke-width="0.9" />
<line x1="166.0" y1="116.8" x2="403.0" y2="116.8" stroke="#aaa" stroke-width="0.7" stroke-dasharray="14 3 2 3"/>
<rect x="112.6" y="115.5" width="48.4" height="2.6" fill="#fff" stroke="#333" stroke-width="0.6"/>
<rect x="160.3" y="114.4" width="2.4" height="4.8" fill="#fff" stroke="#333" stroke-width="0.7" />
<rect x="405.3" y="115.5" width="29.7" height="2.6" fill="#fff" stroke="#333" stroke-width="0.6"/>
<rect x="404.6" y="114.4" width="2.4" height="4.8" fill="#fff" stroke="#333" stroke-width="0.7" />
<line x1="146.5" y1="116.8" x2="154.0" y2="116.8" stroke="#111" stroke-width="1.8" />
<line x1="420.0" y1="116.8" x2="432.0" y2="116.8" stroke="#111" stroke-width="1.8" />
<circle cx="152.9" cy="173.7" r="10.2" fill="none" stroke="#111" stroke-width="0.9"/>
<circle cx="398.7" cy="167.9" r="4.2" fill="#fff" stroke="#111" stroke-width="0.9"/>
<line x1="156.4" y1="60.8" x2="156.4" y2="94.5" stroke="#222" stroke-width="0.7" />
<line x1="411.9" y1="59.0" x2="411.9" y2="94.9" stroke="#222" stroke-width="0.7" />
<line x1="164.9" y1="72.0" x2="164.9" y2="106.3" stroke="#222" stroke-width="0.7" />
<line x1="403.2" y1="72.0" x2="403.2" y2="94.9" stroke="#222" stroke-width="0.7" />
<line x1="156.4" y1="62.4" x2="411.9" y2="62.4" stroke="#222" stroke-width="0.7" />
<path d="M156.4,62.4 L161.4,61.4 L161.4,63.4 Z" fill="#222"/>
<path d="M411.9,62.4 L406.9,63.4 L406.9,61.4 Z" fill="#222"/>
<line x1="164.9" y1="73.4" x2="403.2" y2="73.4" stroke="#222" stroke-width="0.7" />
<path d="M164.9,73.4 L169.9,72.4 L169.9,74.4 Z" fill="#222"/>
<path d="M403.2,73.4 L398.2,74.4 L398.2,72.4 Z" fill="#222"/>
<text x="284.2" y="61.0" font-size="7" text-anchor="middle" font-style="normal" font-weight="normal" fill="#222" stroke="#222" stroke-width="0.18" textLength="15.6" lengthAdjust="spacingAndGlyphs" >8600</text>
<text x="284.2" y="72.0" font-size="7" text-anchor="middle" font-style="normal" font-weight="normal" fill="#222" stroke="#222" stroke-width="0.18" textLength="15.6" lengthAdjust="spacingAndGlyphs" >8000</text>
<line x1="133.4" y1="82.2" x2="174.0" y2="82.2" stroke="#222" stroke-width="0.7" />
<text x="140.7" y="80.5" font-size="7" text-anchor="middle" font-style="normal" font-weight="normal" fill="#222" stroke="#222" stroke-width="0.18" textLength="14.0" lengthAdjust="spacingAndGlyphs" >300</text>
<line x1="102.0" y1="86.0" x2="102.0" y2="116.0" stroke="#222" stroke-width="0.7" />
<text x="101.4" y="110.5" font-size="7.2" text-anchor="middle" font-style="normal" font-weight="normal" fill="#222" stroke="#222" stroke-width="0.18" textLength="11.0" lengthAdjust="spacingAndGlyphs" transform="rotate(-90 101.4 110.5)" >100</text>
<line x1="114.7" y1="106.0" x2="114.7" y2="145.0" stroke="#222" stroke-width="0.7" />
<text x="114.0" y="136.3" font-size="7.2" text-anchor="middle" font-style="normal" font-weight="normal" fill="#222" stroke="#222" stroke-width="0.18" textLength="17.4" lengthAdjust="spacingAndGlyphs" transform="rotate(-90 114.0 136.3)" >Ø110</text>
<line x1="97.5" y1="138.0" x2="97.5" y2="180.0" stroke="#222" stroke-width="0.7" />
<text x="97.2" y="145.8" font-size="7.2" text-anchor="middle" font-style="normal" font-weight="normal" fill="#222" stroke="#222" stroke-width="0.18" textLength="12.0" lengthAdjust="spacingAndGlyphs" transform="rotate(-90 97.2 145.8)" >300</text>
<line x1="80.4" y1="164.3" x2="80.4" y2="200.0" stroke="#222" stroke-width="0.7" />
<text x="79.8" y="194.3" font-size="7.2" text-anchor="middle" font-style="normal" font-weight="normal" fill="#222" stroke="#222" stroke-width="0.18" textLength="11.5" lengthAdjust="spacingAndGlyphs" transform="rotate(-90 79.8 194.3)" >150</text>
<line x1="89.7" y1="162.6" x2="89.7" y2="194.0" stroke="#222" stroke-width="0.7" />
<text x="89.0" y="189.6" font-size="7.2" text-anchor="middle" font-style="normal" font-weight="normal" fill="#222" stroke="#222" stroke-width="0.18" textLength="9.3" lengthAdjust="spacingAndGlyphs" transform="rotate(-90 89.0 189.6)" >50</text>
<line x1="79.2" y1="172.8" x2="135.0" y2="172.8" stroke="#222" stroke-width="0.7" />
<line x1="79.2" y1="174.4" x2="135.0" y2="174.4" stroke="#222" stroke-width="0.7" />
<line x1="79.2" y1="178.1" x2="135.0" y2="178.1" stroke="#222" stroke-width="0.7" />
<text x="431.3" y="51.5" font-size="7.3" text-anchor="start" font-style="italic" font-weight="normal" fill="#222" stroke="#222" stroke-width="0.18" textLength="18.3" lengthAdjust="spacingAndGlyphs" >0.000</text>
<line x1="425.0" y1="52.9" x2="462.7" y2="52.9" stroke="#222" stroke-width="0.7" />
<text x="431.3" y="61.0" font-size="7.3" text-anchor="start" font-style="italic" font-weight="normal" fill="#222" stroke="#222" stroke-width="0.18" textLength="30.0" lengthAdjust="spacingAndGlyphs" >ур.земли</text>
<line x1="425.0" y1="52.9" x2="425.0" y2="94.0" stroke="#222" stroke-width="0.8" />
<path d="M425.0,94.5 L423.0,82.5 L427.0,82.5 Z" fill="#222"/>
<text x="470.8" y="66.0" font-size="7.2" text-anchor="start" font-style="italic" font-weight="normal" fill="#222" stroke="#222" stroke-width="0.18" textLength="65.1" lengthAdjust="spacingAndGlyphs" >Обратная засыпка</text>
<path d="M536.0,67.9 L468.0,67.9 L426.0,107.0" fill="none" stroke="#222" stroke-width="0.7"/>
<path d="M426.0,107.0 L431.2,100.1 L433.2,102.3 Z" fill="#222"/>
<text x="466.1" y="184.6" font-size="7.2" text-anchor="start" font-style="italic" font-weight="normal" fill="#222" stroke="#222" stroke-width="0.18" textLength="47.6" lengthAdjust="spacingAndGlyphs" >Пескоцемент</text>
<text x="466.1" y="194.5" font-size="7.2" text-anchor="start" font-style="italic" font-weight="normal" fill="#222" stroke="#222" stroke-width="0.18" textLength="52.7" lengthAdjust="spacingAndGlyphs" >(пропорция 5:1)</text>
<path d="M518.8,186.3 L461.5,186.3 L409.0,150.0" fill="none" stroke="#222" stroke-width="0.7"/>
<path d="M409.0,150.0 L416.8,153.6 L415.1,156.1 Z" fill="#222"/>
<text x="437.5" y="213.4" font-size="14" text-anchor="middle" font-style="italic" font-weight="normal" fill="#222" textLength="9.6" lengthAdjust="spacingAndGlyphs" >В</text>
<path d="M444.4,217.4 L428.3,217.4 L400.1,168.1" fill="none" stroke="#222" stroke-width="0.7"/>
<text x="185.5" y="208.6" font-size="7.2" text-anchor="middle" font-style="italic" font-weight="normal" fill="#222" stroke="#222" stroke-width="0.18" textLength="41.3" lengthAdjust="spacingAndGlyphs" >Нейлоновые</text>
<text x="181.6" y="218.2" font-size="7.2" text-anchor="middle" font-style="italic" font-weight="normal" fill="#222" stroke="#222" stroke-width="0.18" textLength="26.8" lengthAdjust="spacingAndGlyphs" >стропы</text>
<path d="M164.8,210.3 L207.3,210.3 L244.0,150.0" fill="none" stroke="#222" stroke-width="0.7"/>
<path d="M244.0,150.0 L240.9,158.0 L238.3,156.5 Z" fill="#222"/>
<text x="111.8" y="229.2" font-size="14" text-anchor="middle" font-style="italic" font-weight="normal" fill="#222" textLength="10.1" lengthAdjust="spacingAndGlyphs" >Б</text>
<path d="M103.4,234.8 L121.2,234.8 L146.9,186.8" fill="none" stroke="#222" stroke-width="0.7"/>
<path d="M146.9,186.8 L144.2,195.0 L141.6,193.6 Z" fill="#222"/>
<rect x="134.4" y="284.8" width="301.9" height="113.2" fill="url(#hb)" stroke="none" stroke-width="0"/>
<rect x="134.4" y="284.8" width="301.9" height="113.2" fill="none" stroke="#111" stroke-width="1.3" />
<rect x="156.4" y="303.8" width="256.2" height="74.6" fill="url(#sd)" stroke="none" stroke-width="0"/>
<rect x="156.4" y="303.8" width="256.2" height="74.6" fill="none" stroke="#111" stroke-width="1.1" />
<rect x="165.3" y="312.5" width="238.3" height="57.2" fill="#fff" stroke="#111" stroke-width="1.1" />
<line x1="166.0" y1="340.5" x2="403.0" y2="340.5" stroke="#aaa" stroke-width="0.7" stroke-dasharray="14 3 2 3"/>
<rect x="171.3" y="310.0" width="3.4" height="62.3" fill="#aaa" stroke="#222" stroke-width="0.9" />
<rect x="170.4" y="309.0" width="5.2" height="4.2" fill="#fff" stroke="#222" stroke-width="0.9" />
<rect x="170.4" y="369.0" width="5.2" height="4.2" fill="#fff" stroke="#222" stroke-width="0.9" />
<rect x="245.6" y="310.0" width="3.6" height="62.3" fill="#aaa" stroke="#222" stroke-width="0.9" />
<rect x="244.8" y="309.0" width="5.2" height="4.2" fill="#fff" stroke="#222" stroke-width="0.9" />
<rect x="244.8" y="369.0" width="5.2" height="4.2" fill="#fff" stroke="#222" stroke-width="0.9" />
<rect x="320.1" y="310.0" width="3.6" height="62.3" fill="#aaa" stroke="#222" stroke-width="0.9" />
<rect x="319.3" y="309.0" width="5.2" height="4.2" fill="#fff" stroke="#222" stroke-width="0.9" />
<rect x="319.3" y="369.0" width="5.2" height="4.2" fill="#fff" stroke="#222" stroke-width="0.9" />
<rect x="394.2" y="310.0" width="3.6" height="62.3" fill="#aaa" stroke="#222" stroke-width="0.9" />
<rect x="393.4" y="309.0" width="5.2" height="4.2" fill="#fff" stroke="#222" stroke-width="0.9" />
<rect x="393.4" y="369.0" width="5.2" height="4.2" fill="#fff" stroke="#222" stroke-width="0.9" />
<rect x="192.0" y="322.6" width="34.9" height="35.8" fill="none" stroke="#111" stroke-width="1.1" />
<rect x="269.1" y="327.5" width="29.1" height="25.9" fill="none" stroke="#111" stroke-width="1.1" />
<rect x="341.6" y="322.6" width="35.3" height="35.8" fill="none" stroke="#111" stroke-width="1.1" />
<rect x="136.9" y="339.2" width="25.8" height="2.6" fill="#fff" stroke="#333" stroke-width="0.6"/>
<rect x="160.8" y="338.1" width="2.4" height="4.8" fill="#fff" stroke="#333" stroke-width="0.7" />
<rect x="405.2" y="339.2" width="29.5" height="2.6" fill="#fff" stroke="#333" stroke-width="0.6"/>
<rect x="404.6" y="338.1" width="2.4" height="4.8" fill="#fff" stroke="#333" stroke-width="0.7" />
<path d="M149.0,340.5 L143.0,341.9 L143.0,339.1 Z" fill="#222"/>
<line x1="143.0" y1="340.5" x2="152.0" y2="340.5" stroke="#111" stroke-width="1.5" />
<path d="M433.0,340.5 L427.0,341.9 L427.0,339.1 Z" fill="#222"/>
<line x1="420.0" y1="340.5" x2="430.0" y2="340.5" stroke="#111" stroke-width="1.5" />
<circle cx="321.8" cy="311.5" r="7.1" fill="none" stroke="#111" stroke-width="0.9"/>
<text x="366.8" y="250.2" font-size="14.5" text-anchor="middle" font-style="italic" font-weight="normal" fill="#222" textLength="9.5" lengthAdjust="spacingAndGlyphs" >Г</text>
<path d="M370.0,254.2 L359.6,254.2 L321.5,305.9" fill="none" stroke="#222" stroke-width="0.7"/>
<path d="M326.5,299.5 L333.5,291.5 L331.5,296.5 Z" fill="#111" stroke="#111" stroke-width="1.8"/>
<line x1="133.9" y1="270.5" x2="173.7" y2="270.5" stroke="#222" stroke-width="0.7" />
<line x1="156.4" y1="268.9" x2="156.4" y2="303.8" stroke="#222" stroke-width="0.7" />
<line x1="165.3" y1="268.9" x2="165.3" y2="312.5" stroke="#222" stroke-width="0.7" />
<text x="139.9" y="269.0" font-size="6.6" text-anchor="middle" font-style="normal" font-weight="normal" fill="#222" stroke="#222" stroke-width="0.18" textLength="12.0" lengthAdjust="spacingAndGlyphs" >300</text>
<line x1="412.6" y1="303.9" x2="478.4" y2="303.9" stroke="#222" stroke-width="0.7" />
<line x1="403.6" y1="312.9" x2="465.5" y2="312.9" stroke="#222" stroke-width="0.7" />
<line x1="403.6" y1="369.5" x2="456.5" y2="369.5" stroke="#222" stroke-width="0.7" />
<line x1="412.6" y1="378.5" x2="478.4" y2="378.5" stroke="#222" stroke-width="0.7" />
<line x1="453.5" y1="312.9" x2="453.5" y2="369.5" stroke="#222" stroke-width="0.7" />
<line x1="476.4" y1="303.9" x2="476.4" y2="378.5" stroke="#222" stroke-width="0.7" />
<line x1="464.5" y1="281.0" x2="464.5" y2="321.8" stroke="#222" stroke-width="0.7" />
<text x="452.7" y="341.2" font-size="7.8" text-anchor="middle" font-style="normal" font-weight="normal" fill="#222" stroke="#222" stroke-width="0.18" textLength="16.5" lengthAdjust="spacingAndGlyphs" transform="rotate(-90 452.7 341.2)" >1900</text>
<text x="475.0" y="341.2" font-size="7.8" text-anchor="middle" font-style="normal" font-weight="normal" fill="#222" stroke="#222" stroke-width="0.18" textLength="16.5" lengthAdjust="spacingAndGlyphs" transform="rotate(-90 475.0 341.2)" >2500</text>
<text x="463.6" y="287.6" font-size="7.8" text-anchor="middle" font-style="normal" font-weight="normal" fill="#222" stroke="#222" stroke-width="0.18" textLength="12.4" lengthAdjust="spacingAndGlyphs" transform="rotate(-90 463.6 287.6)" >300</text>
<line x1="82.0" y1="339.9" x2="118.5" y2="339.9" stroke="#111" stroke-width="1.3" />
<line x1="95.8" y1="345.0" x2="95.8" y2="384.1" stroke="#111" stroke-width="0.9" />
<path d="M95.8,340.4 L98.0,352.9 L93.6,352.9 Z" fill="#222"/>
<text x="86.0" y="369.0" font-size="15" text-anchor="middle" font-style="normal" font-weight="normal" fill="#222" textLength="10.0" lengthAdjust="spacingAndGlyphs" >A</text>
<line x1="488.3" y1="339.7" x2="525.1" y2="339.7" stroke="#111" stroke-width="1.3" />
<line x1="511.2" y1="345.0" x2="511.2" y2="383.4" stroke="#111" stroke-width="0.9" />
<path d="M511.2,340.2 L513.4,352.7 L509.0,352.7 Z" fill="#222"/>
<text x="522.5" y="364.5" font-size="15" text-anchor="middle" font-style="normal" font-weight="normal" fill="#222" textLength="10.9" lengthAdjust="spacingAndGlyphs" >A</text>
<rect x="641.8" y="94.4" width="8.6" height="92.3" fill="url(#grv)" stroke="none" stroke-width="0"/>
<rect x="764.2" y="94.4" width="8.6" height="92.3" fill="url(#grv)" stroke="none" stroke-width="0"/>
<rect x="641.8" y="178.1" width="131.0" height="8.6" fill="url(#gr)" stroke="none" stroke-width="0"/>
<rect x="650.4" y="94.4" width="19.3" height="83.3" fill="url(#hb)" stroke="none" stroke-width="0"/>
<rect x="743.8" y="94.4" width="20.4" height="83.3" fill="url(#hb)" stroke="none" stroke-width="0"/>
<rect x="650.4" y="94.4" width="19.3" height="83.7" fill="none" stroke="#111" stroke-width="1.2" />
<rect x="743.8" y="94.4" width="20.4" height="83.7" fill="none" stroke="#111" stroke-width="1.2" />
<rect x="669.7" y="94.4" width="74.1" height="69.8" fill="url(#sd)" stroke="none" stroke-width="0"/>
<rect x="690.6" y="92.0" width="34.5" height="28.0" fill="#fff" />
<circle cx="706.5" cy="134.5" r="28" fill="#fff" stroke="#111" stroke-width="1.1"/>
<line x1="690.1" y1="91.8" x2="690.1" y2="111.5" stroke="#222" stroke-width="1" />
<line x1="725.6" y1="91.8" x2="725.6" y2="111.5" stroke="#222" stroke-width="1" />
<line x1="689.0" y1="91.8" x2="726.6" y2="91.8" stroke="#222" stroke-width="2" />
<rect x="669.7" y="164.2" width="74.1" height="7.5" fill="url(#cc)" stroke="none" stroke-width="0"/>
<line x1="669.7" y1="164.2" x2="743.8" y2="164.2" stroke="#111" stroke-width="1.1" />
<rect x="669.7" y="171.7" width="74.1" height="6.4" fill="url(#sd2)" />
<line x1="669.7" y1="171.9" x2="743.8" y2="171.9" stroke="#111" stroke-width="0.9" />
<line x1="673" y1="173.2" x2="740" y2="173.2" stroke="#111" stroke-width="1.6" stroke-dasharray="3 1.5"/>
<line x1="641.8" y1="178.1" x2="772.8" y2="178.1" stroke="#111" stroke-width="0.9" />
<line x1="678.8" y1="137.0" x2="669.7" y2="162.7" stroke="#222" stroke-width="0.8" />
<line x1="734.2" y1="137.0" x2="743.4" y2="162.7" stroke="#222" stroke-width="0.8" />
<rect x="667.0" y="161.0" width="5.0" height="4.7" fill="#fff" stroke="#111" stroke-width="0.8" />
<rect x="741.3" y="161.0" width="4.7" height="4.7" fill="#fff" stroke="#111" stroke-width="0.8" />
<line x1="669.7" y1="135.2" x2="745.0" y2="135.2" stroke="#999" stroke-width="0.6" stroke-dasharray="8 2 2 2"/>
<line x1="706.2" y1="76.0" x2="706.2" y2="195.0" stroke="#999" stroke-width="0.6" stroke-dasharray="10 2 2 2"/>
<line x1="669.7" y1="94.4" x2="669.7" y2="135.0" stroke="#222" stroke-width="0.6" />
<line x1="678.3" y1="78.0" x2="678.3" y2="135.0" stroke="#222" stroke-width="0.6" />
<line x1="735.2" y1="78.0" x2="735.2" y2="135.0" stroke="#222" stroke-width="0.6" />
<line x1="743.8" y1="78.0" x2="743.8" y2="94.4" stroke="#222" stroke-width="0.6" />
<line x1="641.8" y1="94.4" x2="772.8" y2="94.4" stroke="#222" stroke-width="0.9" />
<circle cx="706.2" cy="118" r="3.3" fill="#fff" stroke="#111" stroke-width="0.9"/>
<line x1="684.8" y1="141.6" x2="715.9" y2="108.3" stroke="#222" stroke-width="0.7" />
<text x="692.0" y="129.0" font-size="6.8" text-anchor="middle" font-style="normal" font-weight="normal" fill="#222" stroke="#222" stroke-width="0.18" textLength="17.0" lengthAdjust="spacingAndGlyphs" transform="rotate(-47 692.0 129.0)" >Ø110</text>
<line x1="660.0" y1="81.0" x2="701.0" y2="81.0" stroke="#222" stroke-width="0.7" />
<text x="694.5" y="80.0" font-size="6.8" text-anchor="middle" font-style="normal" font-weight="normal" fill="#222" stroke="#222" stroke-width="0.18" textLength="13.0" lengthAdjust="spacingAndGlyphs" >300</text>
<line x1="726.6" y1="81.0" x2="766.4" y2="81.0" stroke="#222" stroke-width="0.7" />
<text x="760.0" y="80.0" font-size="6.8" text-anchor="middle" font-style="normal" font-weight="normal" fill="#222" stroke="#222" stroke-width="0.18" textLength="12.0" lengthAdjust="spacingAndGlyphs" >300</text>
<line x1="725.6" y1="93.3" x2="787.0" y2="93.3" stroke="#222" stroke-width="0.7" />
<line x1="745.0" y1="163.6" x2="787.0" y2="163.6" stroke="#222" stroke-width="0.7" />
<line x1="764.0" y1="94.5" x2="801.2" y2="94.5" stroke="#222" stroke-width="0.7" />
<line x1="764.5" y1="178.0" x2="801.2" y2="178.0" stroke="#222" stroke-width="0.7" />
<line x1="784.6" y1="93.3" x2="784.6" y2="163.6" stroke="#222" stroke-width="0.7" />
<line x1="799.0" y1="94.5" x2="799.0" y2="178.0" stroke="#222" stroke-width="0.7" />
<text x="783.3" y="126.8" font-size="7.2" text-anchor="middle" font-style="normal" font-weight="normal" fill="#222" stroke="#222" stroke-width="0.18" textLength="15.6" lengthAdjust="spacingAndGlyphs" transform="rotate(-90 783.3 126.8)" >2400</text>
<text x="798.2" y="135.8" font-size="7.2" text-anchor="middle" font-style="normal" font-weight="normal" fill="#222" stroke="#222" stroke-width="0.18" textLength="15.5" lengthAdjust="spacingAndGlyphs" transform="rotate(-90 798.2 135.8)" >2800</text>
<text x="598.5" y="99.8" font-size="7.2" text-anchor="middle" font-style="italic" font-weight="normal" fill="#222" stroke="#222" stroke-width="0.18" textLength="42.0" lengthAdjust="spacingAndGlyphs" >Нейлоновые</text>
<text x="590.5" y="109.3" font-size="7.2" text-anchor="middle" font-style="italic" font-weight="normal" fill="#222" stroke="#222" stroke-width="0.18" textLength="26.5" lengthAdjust="spacingAndGlyphs" >стропы</text>
<path d="M577.0,101.8 L620.0,101.8 L676.0,140.0" fill="none" stroke="#222" stroke-width="0.7"/>
<path d="M676.0,140.0 L668.1,136.4 L669.8,134.0 Z" fill="#222"/>
<text x="583.7" y="122.7" font-size="7.2" text-anchor="middle" font-style="italic" font-weight="normal" fill="#222" stroke="#222" stroke-width="0.18" textLength="62.0" lengthAdjust="spacingAndGlyphs" >Плита с двойным</text>
<text x="577.5" y="131.6" font-size="7.2" text-anchor="middle" font-style="italic" font-weight="normal" fill="#222" stroke="#222" stroke-width="0.18" textLength="51.0" lengthAdjust="spacingAndGlyphs" >армированием</text>
<path d="M552.7,124.6 L614.7,124.6 L689.4,164.9" fill="none" stroke="#222" stroke-width="0.7"/>
<path d="M689.4,164.9 L681.2,162.2 L682.6,159.5 Z" fill="#222"/>
<text x="642.6" y="213.6" font-size="7.2" text-anchor="middle" font-style="italic" font-weight="normal" fill="#222" stroke="#222" stroke-width="0.18" textLength="27.3" lengthAdjust="spacingAndGlyphs" >Щебень</text>
<path d="M627.0,215.7 L658.0,215.7 L677.4,177.1" fill="none" stroke="#222" stroke-width="0.7"/>
<path d="M677.4,177.1 L674.9,185.4 L672.2,184.0 Z" fill="#222"/>
<text x="710.9" y="226.1" font-size="7.2" text-anchor="middle" font-style="italic" font-weight="normal" fill="#222" stroke="#222" stroke-width="0.18" textLength="23.8" lengthAdjust="spacingAndGlyphs" >Грунт</text>
<path d="M699.0,228.6 L727.5,228.6 L748.2,184.0" fill="none" stroke="#222" stroke-width="0.7"/>
<path d="M748.2,184.0 L746.0,192.3 L743.3,191.1 Z" fill="#222"/>
<text x="662.4" y="237.2" font-size="7.2" text-anchor="middle" font-style="italic" font-weight="normal" fill="#222" stroke="#222" stroke-width="0.18" textLength="31.8" lengthAdjust="spacingAndGlyphs" >Песчаная</text>
<text x="662.4" y="246.8" font-size="7.2" text-anchor="middle" font-style="italic" font-weight="normal" fill="#222" stroke="#222" stroke-width="0.18" textLength="30.0" lengthAdjust="spacingAndGlyphs" >подушка</text>
<path d="M646.5,239.6 L678.3,239.6 L703.7,179.2" fill="none" stroke="#222" stroke-width="0.7"/>
<path d="M703.7,179.2 L701.8,187.6 L699.0,186.5 Z" fill="#222"/>
<clipPath id="cb"><circle cx="165.6" cy="504.5" r="45.2"/></clipPath>
<g clip-path="url(#cb)">
<rect x="118.0" y="457.0" width="55.2" height="46.8" fill="url(#hb)" stroke="none" stroke-width="0"/>
<rect x="173.2" y="457.0" width="39.8" height="46.8" fill="url(#ccL)" stroke="none" stroke-width="0"/>
<rect x="118.0" y="503.8" width="95.0" height="8.2" fill="url(#gvL)" />
<rect x="118.0" y="512.0" width="95.0" height="21.5" fill="url(#sd2)" stroke="none" stroke-width="0"/>
<rect x="118.0" y="533.5" width="95.0" height="18.5" fill="url(#grL)" stroke="none" stroke-width="0"/>
<line x1="173.2" y1="457.0" x2="173.2" y2="503.8" stroke="#111" stroke-width="1" />
<line x1="118.0" y1="503.8" x2="213.0" y2="503.8" stroke="#111" stroke-width="1.1" />
<line x1="118.0" y1="512.0" x2="213.0" y2="512.0" stroke="#111" stroke-width="1.1" />
<line x1="118.0" y1="533.5" x2="213.0" y2="533.5" stroke="#111" stroke-width="1.1" />
</g>
<circle cx="165.6" cy="504.5" r="45.2" fill="none" stroke="#111" stroke-width="1.3"/>
<text x="167.0" y="447.0" font-size="15" text-anchor="middle" font-style="italic" font-weight="normal" fill="#222" textLength="48.7" lengthAdjust="spacingAndGlyphs" >Б(1:10)</text>
<line x1="173.2" y1="459.2" x2="228.0" y2="459.2" stroke="#222" stroke-width="0.7" />
<line x1="211.0" y1="503.8" x2="241.0" y2="503.8" stroke="#222" stroke-width="0.7" />
<line x1="211.0" y1="512.0" x2="241.0" y2="512.0" stroke="#222" stroke-width="0.7" />
<line x1="198.0" y1="533.5" x2="228.0" y2="533.5" stroke="#222" stroke-width="0.7" />
<line x1="224.6" y1="459.2" x2="224.6" y2="503.8" stroke="#222" stroke-width="0.7" />
<line x1="224.6" y1="512.0" x2="224.6" y2="533.5" stroke="#222" stroke-width="0.7" />
<line x1="237.8" y1="495.7" x2="237.8" y2="530.8" stroke="#222" stroke-width="0.7" />
<text x="223.6" y="482.2" font-size="7.4" text-anchor="middle" font-style="normal" font-weight="normal" fill="#222" stroke="#222" stroke-width="0.18" textLength="13.6" lengthAdjust="spacingAndGlyphs" transform="rotate(-90 223.6 482.2)" >300</text>
<text x="223.6" y="522.7" font-size="7.4" text-anchor="middle" font-style="normal" font-weight="normal" fill="#222" stroke="#222" stroke-width="0.18" textLength="13.5" lengthAdjust="spacingAndGlyphs" transform="rotate(-90 223.6 522.7)" >150</text>
<text x="237.0" y="523.3" font-size="7.4" text-anchor="middle" font-style="normal" font-weight="normal" fill="#222" stroke="#222" stroke-width="0.18" textLength="9.4" lengthAdjust="spacingAndGlyphs" transform="rotate(-90 237.0 523.3)" >50</text>
<text x="89.7" y="456.0" font-size="7.2" text-anchor="middle" font-style="italic" font-weight="normal" fill="#222" stroke="#222" stroke-width="0.18" textLength="62.6" lengthAdjust="spacingAndGlyphs" >Обратная засыпка</text>
<path d="M58.4,457.8 L121.0,457.8 L148.1,479.5" fill="none" stroke="#222" stroke-width="0.7"/>
<path d="M148.1,479.5 L140.5,475.4 L142.4,473.0 Z" fill="#222"/>
<text x="76.9" y="514.2" font-size="7.2" text-anchor="middle" font-style="italic" font-weight="normal" fill="#222" stroke="#222" stroke-width="0.18" textLength="26.2" lengthAdjust="spacingAndGlyphs" >Щебень</text>
<path d="M63.8,516.0 L90.0,516.0 L119.7,509.2" fill="none" stroke="#222" stroke-width="0.7"/>
<path d="M119.7,509.2 L111.7,512.6 L111.1,509.6 Z" fill="#222"/>
<text x="90.4" y="539.8" font-size="7.2" text-anchor="middle" font-style="italic" font-weight="normal" fill="#222" stroke="#222" stroke-width="0.18" textLength="31.6" lengthAdjust="spacingAndGlyphs" >Песчаная</text>
<text x="90.4" y="548.0" font-size="7.2" text-anchor="middle" font-style="italic" font-weight="normal" fill="#222" stroke="#222" stroke-width="0.18" textLength="30.0" lengthAdjust="spacingAndGlyphs" >подушка</text>
<path d="M74.6,541.3 L106.2,541.3 L150.8,522.7" fill="none" stroke="#222" stroke-width="0.7"/>
<path d="M150.8,522.7 L143.5,527.4 L142.4,524.6 Z" fill="#222"/>
<text x="106.2" y="562.8" font-size="7.2" text-anchor="middle" font-style="italic" font-weight="normal" fill="#222" stroke="#222" stroke-width="0.18" textLength="21.6" lengthAdjust="spacingAndGlyphs" >Грунт</text>
<path d="M95.4,564.6 L117.0,564.6 L164.3,541.6" fill="none" stroke="#222" stroke-width="0.7"/>
<path d="M164.3,541.6 L157.3,546.7 L156.0,544.0 Z" fill="#222"/>
<text x="177.2" y="566.6" font-size="7.2" text-anchor="middle" font-style="italic" font-weight="normal" fill="#222" stroke="#222" stroke-width="0.18" textLength="58.1" lengthAdjust="spacingAndGlyphs" >Бетонная плита</text>
<text x="177.2" y="576.2" font-size="7.2" text-anchor="middle" font-style="italic" font-weight="normal" fill="#222" stroke="#222" stroke-width="0.18" textLength="58.1" lengthAdjust="spacingAndGlyphs" >с двухсторонним</text>
<text x="168.0" y="585.7" font-size="7.2" text-anchor="middle" font-style="italic" font-weight="normal" fill="#222" stroke="#222" stroke-width="0.18" textLength="44.0" lengthAdjust="spacingAndGlyphs" >армированием</text>
<path d="M148.1,568.5 L206.2,568.5 L191.4,484.9" fill="none" stroke="#222" stroke-width="0.7"/>
<path d="M191.4,484.9 L194.4,493.0 L191.4,493.5 Z" fill="#222"/>
<text x="348.6" y="457.0" font-size="15" text-anchor="middle" font-style="italic" font-weight="normal" fill="#222" textLength="51.2" lengthAdjust="spacingAndGlyphs" >В(1:10)</text>
<line x1="289.1" y1="484.4" x2="314.6" y2="484.4" stroke="#111" stroke-width="1.5" />
<line x1="318.7" y1="484.4" x2="404.0" y2="484.4" stroke="#111" stroke-width="1.5" />
<line x1="289.1" y1="528.5" x2="314.6" y2="528.5" stroke="#111" stroke-width="1.5" />
<line x1="318.7" y1="528.5" x2="404.0" y2="528.5" stroke="#111" stroke-width="1.5" />
<line x1="302.7" y1="488.7" x2="388.5" y2="488.7" stroke="#333" stroke-width="0.9" stroke-dasharray="6.5 2.2"/>
<line x1="302.7" y1="524.4" x2="388.5" y2="524.4" stroke="#333" stroke-width="0.9" stroke-dasharray="6.5 2.2"/>
<path d="M318.5,480 C316,490 322,498 319,506 C316,514 322,522 319,532" fill="none" stroke="#555" stroke-width="0.6"/>
<path d="M387.5,480 C385,490 391,498 388,506 C385,514 391,522 388,532" fill="none" stroke="#555" stroke-width="0.6"/>
<line x1="290.8" y1="484.4" x2="290.8" y2="528.5" stroke="#222" stroke-width="0.7" />
<text x="290.0" y="507.0" font-size="7.6" text-anchor="middle" font-style="normal" font-weight="normal" fill="#222" stroke="#222" stroke-width="0.18" textLength="12.0" lengthAdjust="spacingAndGlyphs" transform="rotate(-90 290.0 507.0)" >300</text>
<line x1="402.8" y1="476.0" x2="402.8" y2="546.3" stroke="#222" stroke-width="0.7" />
<line x1="388.5" y1="488.7" x2="405.0" y2="488.7" stroke="#222" stroke-width="0.6" />
<line x1="388.5" y1="524.4" x2="405.0" y2="524.4" stroke="#222" stroke-width="0.6" />
<line x1="400.0" y1="484.4" x2="405.0" y2="484.4" stroke="#222" stroke-width="0.7" />
<line x1="400.0" y1="528.5" x2="405.0" y2="528.5" stroke="#222" stroke-width="0.7" />
<text x="402.0" y="502.5" font-size="7.6" text-anchor="middle" font-style="normal" font-weight="normal" fill="#222" stroke="#222" stroke-width="0.18" textLength="7.6" lengthAdjust="spacingAndGlyphs" transform="rotate(-90 402.0 502.5)" >30</text>
<text x="402.0" y="542.0" font-size="7.6" text-anchor="middle" font-style="normal" font-weight="normal" fill="#222" stroke="#222" stroke-width="0.18" textLength="8.3" lengthAdjust="spacingAndGlyphs" transform="rotate(-90 402.0 542.0)" >30</text>
<text x="279.0" y="545.0" font-size="7.2" text-anchor="middle" font-style="italic" font-weight="normal" fill="#222" stroke="#222" stroke-width="0.18" textLength="66.0" lengthAdjust="spacingAndGlyphs" >Плита армирована</text>
<text x="246.5" y="552.8" font-size="7.2" text-anchor="start" font-style="italic" font-weight="normal" fill="#222" stroke="#222" stroke-width="0.18" textLength="52.0" lengthAdjust="spacingAndGlyphs" >по низу и верху</text>
<path d="M246.2,546.0 L313.4,546.0 L342.0,487.9" fill="none" stroke="#222" stroke-width="0.7"/>
<path d="M342.0,487.9 L339.6,496.2 L336.9,494.9 Z" fill="#222"/>
<path d="M313.4,546.0 L339.7,527.3" fill="none" stroke="#222" stroke-width="0.7"/>
<path d="M339.7,527.3 L333.6,533.4 L331.9,531.0 Z" fill="#222"/>
<clipPath id="cg"><circle cx="531.9" cy="517.4" r="23.3"/></clipPath>
<g clip-path="url(#cg)">
<rect x="505.0" y="514.8" width="55.0" height="30.2" fill="url(#ccG)" stroke="none" stroke-width="0"/>
<line x1="505.0" y1="514.8" x2="560.0" y2="514.8" stroke="#111" stroke-width="1.1" />
</g>
<circle cx="531.9" cy="517.4" r="23.3" fill="none" stroke="#111" stroke-width="1.1"/>
<path d="M528.6,528.3 V506.6 H536.6 V528.3 M528.6,528.3 H518.2 Q517.4,528.3 517.4,527.3 V524.2 Q517.4,523.4 518.3,523.4 H521.2 M536.6,528.3 H546.6 Q547.4,528.3 547.4,527.3 V524.2 Q547.4,523.4 546.5,523.4 H543.6" fill="none" stroke="#111" stroke-width="3.0" stroke-linejoin="round" stroke-linecap="round"/>
<path d="M528.6,528.3 V506.6 H536.6 V528.3 M528.6,528.3 H518.2 Q517.4,528.3 517.4,527.3 V524.2 Q517.4,523.4 518.3,523.4 H521.2 M536.6,528.3 H546.6 Q547.4,528.3 547.4,527.3 V524.2 Q547.4,523.4 546.5,523.4 H543.6" fill="none" stroke="#fff" stroke-width="1.1" stroke-linejoin="round"/>
<text x="535.7" y="477.2" font-size="14" text-anchor="middle" font-style="italic" font-weight="normal" fill="#222" textLength="9.3" lengthAdjust="spacingAndGlyphs" >Г</text>
<text x="472.1" y="485.0" font-size="7.2" text-anchor="middle" font-style="italic" font-weight="normal" fill="#222" stroke="#222" stroke-width="0.18" textLength="23.8" lengthAdjust="spacingAndGlyphs" >Петля</text>
<text x="471.8" y="494.6" font-size="7.2" text-anchor="middle" font-style="italic" font-weight="normal" fill="#222" stroke="#222" stroke-width="0.18" textLength="39.2" lengthAdjust="spacingAndGlyphs" >монтажная</text>
<path d="M451.2,487.3 L491.4,487.3 L525.6,508.7" fill="none" stroke="#222" stroke-width="0.7"/>
<path d="M525.6,508.7 L517.6,505.5 L519.2,502.9 Z" fill="#222"/>
<text x="452.2" y="540.3" font-size="7.2" text-anchor="middle" font-style="italic" font-weight="normal" fill="#222" stroke="#222" stroke-width="0.18" textLength="58.3" lengthAdjust="spacingAndGlyphs" >Бетонная плита</text>
<text x="452.2" y="548.5" font-size="7.2" text-anchor="middle" font-style="italic" font-weight="normal" fill="#222" stroke="#222" stroke-width="0.18" textLength="58.3" lengthAdjust="spacingAndGlyphs" >с двухсторонним</text>
<text x="444.0" y="557.0" font-size="7.2" text-anchor="middle" font-style="italic" font-weight="normal" fill="#222" stroke="#222" stroke-width="0.18" textLength="43.0" lengthAdjust="spacingAndGlyphs" >армированием</text>
<path d="M420.0,542.2 L485.4,542.2 L510.5,522.4" fill="none" stroke="#222" stroke-width="0.7"/>
<path d="M510.5,522.4 L504.8,528.8 L502.9,526.5 Z" fill="#222"/>
</svg></body></html>
